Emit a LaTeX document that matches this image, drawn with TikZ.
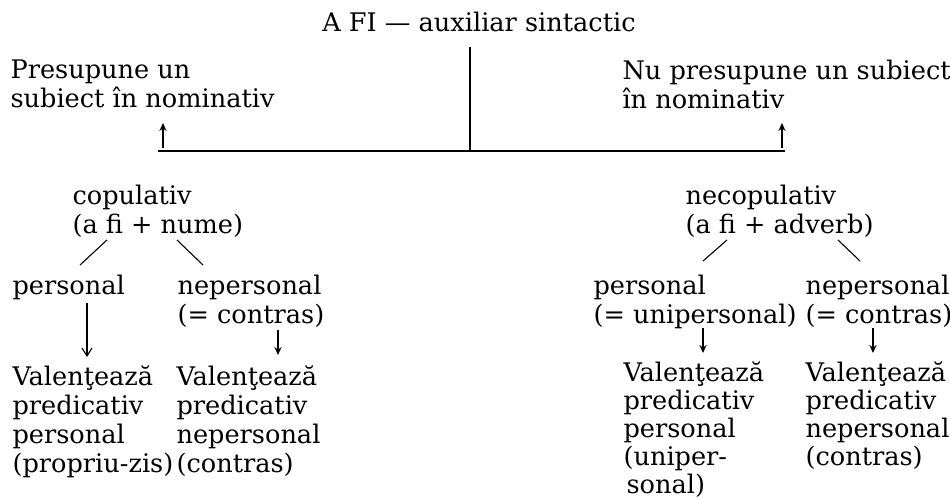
\documentclass[tikz,border=0pt]{standalone}
\usepackage{fontspec}
\setmainfont{DejaVu Serif}
\usepackage{tikz}
\usetikzlibrary{arrows.meta,positioning,calc}

\begin{document}
\begin{tikzpicture}[x=0.5pt,y=-0.5pt,line width=0.55pt,
  txt/.style={inner sep=0pt,align=left,anchor=north west,font=\fontsize{12.8}{14.5}\selectfont},
  tighttxt/.style={txt,font=\fontsize{12.8}{14}\selectfont},
  uparr/.style={-{Stealth[length=4pt,width=3.6pt]}},
  longarr/.style={-{Straight Barb[length=4pt,width=5pt]}}]
\useasboundingbox (0,0) rectangle (950,499);
% top level
\node[txt,anchor=center] (title) at (479,22){A FI --- auxiliar sintactic};
\node[txt] (pres) at (10,59){Presupune un\\subiect în nominativ};
\node[txt] (nupres) at (622,59){Nu presupune un subiect\\în nominativ};
\coordinate (top) at (470,47);
\coordinate (mid) at (470,151);
\coordinate (lend) at (158,151);
\coordinate (rend) at (785,151);
\draw[line width=0.8pt] (top)--(mid);
\draw (lend)--(rend);
\coordinate (la) at (163,148);
\coordinate (lb) at (163,123);
\coordinate (ra) at (782,148);
\coordinate (rb) at (782,123);
\draw[uparr] (la)--(lb);
\draw[uparr] (ra)--(rb);
% second level
\node[txt] (copul) at (72,184){copulativ\\(a fi + nume)};
\node[txt] (necop) at (685,184){necopulativ\\(a fi + adverb)};
\coordinate (ca) at (107,240);
\coordinate (cb) at (80,265);
\coordinate (cc) at (177,240);
\coordinate (cd) at (203,265);
\coordinate (na) at (727,240);
\coordinate (nb) at (703,261);
\coordinate (nc) at (838,240);
\coordinate (nd) at (860,261);
\draw (ca)--(cb);
\draw (cc)--(cd);
\draw (na)--(nb);
\draw (nc)--(nd);
% third level
\node[txt] (persA) at (12,274){personal};
\node[txt] (nepersA) at (177,274){nepersonal\\(= contras)};
\node[txt] (persB) at (593,274){personal\\(= unipersonal)};
\node[txt] (nepersB) at (805,274){nepersonal\\(= contras)};
\coordinate (a1) at (87,303);
\coordinate (b1) at (87,357);
\coordinate (a2) at (278,330);
\coordinate (b2) at (278,355);
\coordinate (a3) at (703,328);
\coordinate (b3) at (703,353);
\coordinate (a4) at (873,328);
\coordinate (b4) at (873,353);
\draw[longarr] (a1)--(b1);
\draw[uparr] (a2)--(b2);
\draw[uparr] (a3)--(b3);
\draw[uparr] (a4)--(b4);
% bottom level
\node[txt] (valA) at (12,365){Valenţează\\predicativ\\personal\\(propriu-zis)};
\node[txt] (valB) at (176,365){Valenţează\\predicativ\\nepersonal\\(contras)};
\node[tighttxt] (valC) at (623,361){Valenţează\\predicativ\\personal\\(uniper-\\\hspace{1.5pt}sonal)};
\node[tighttxt] (valD) at (805,361){Valenţează\\predicativ\\nepersonal\\(contras)};
\end{tikzpicture}
\end{document}
